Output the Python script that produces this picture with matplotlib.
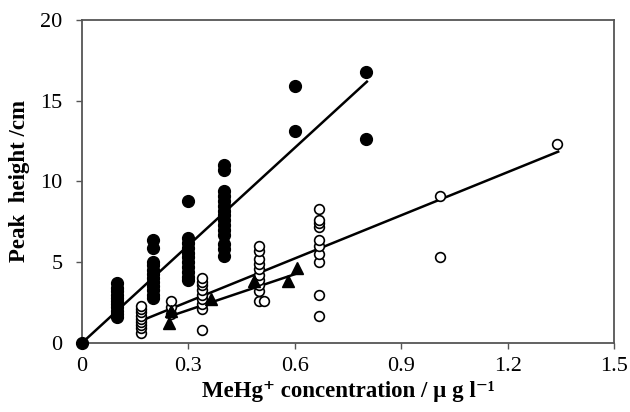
import matplotlib
matplotlib.use("Agg")
import matplotlib.pyplot as plt
import numpy as np

plt.rcParams['font.family'] = ['Liberation Serif', 'DejaVu Serif']

# filled circles
filled_x = [0.0] + [0.1] * 11 + [0.2] * 12 + [0.3] * 11 + [0.4] * 15 + [0.6] * 2 + [0.8] * 2
filled_y = [0.0,
            1.6, 1.8, 2.0, 2.2, 2.4, 2.6, 2.8, 3.0, 3.2, 3.4, 3.7,
            2.8, 3.0, 3.3, 3.5, 3.8, 4.0, 4.3, 4.5, 4.8, 5.0, 5.9, 6.4,
            3.9, 4.1, 4.4, 4.7, 5.0, 5.3, 5.6, 5.9, 6.2, 6.5, 8.8,
            5.4, 5.8, 6.1, 6.7, 7.0, 7.3, 7.6, 7.9, 8.2, 8.5, 8.8, 9.1, 9.4, 10.7, 11.0,
            13.1, 15.9,
            12.6, 16.8]

# open circles
open_x = ([0.167] * 9 + [0.25] * 3 + [0.337] * 9 + [0.5] * 10 + [0.513]
          + [0.667] * 10 + [1.01] * 2 + [1.338])
open_y = [0.6, 0.9, 1.1, 1.3, 1.5, 1.7, 1.9, 2.1, 2.3,
          1.8, 2.2, 2.6,
          0.8, 2.1, 2.4, 2.7, 3.0, 3.3, 3.6, 3.8, 4.0,
          2.6, 3.2, 3.6, 3.9, 4.2, 4.6, 4.9, 5.2, 5.7, 6.0,
          2.6,
          1.7, 3.0, 5.0, 5.5, 6.0, 6.4, 7.2, 7.4, 7.6, 8.3,
          5.3, 9.1,
          12.3]

# triangles
tri_x = [0.246, 0.25, 0.365, 0.485, 0.58, 0.606]
tri_y = [1.22, 2.0, 2.7, 3.85, 3.85, 4.65]

# fitted lines: (x start, x end, slope, intercept)
fit_filled = (0.0, 0.803, 20.15, 0.0)
fit_open = (0.172, 1.342, 8.91, -0.11)
fit_tri = (0.24, 0.61, 7.4, -0.18)

x_ticks = [0, 0.3, 0.6, 0.9, 1.2, 1.5]
x_labels = ['0', '0.3', '0.6', '0.9', '1.2', '1.5']
y_ticks = [0, 5, 10, 15, 20]

fig = plt.figure(figsize=(6.3, 4.12), dpi=100)
ax = fig.add_axes([0.130, 0.1675, 0.845, 0.784])

for x0, x1, m, b in [fit_filled, fit_open, fit_tri]:
    xs = np.array([x0, x1])
    ax.plot(xs, m * xs + b, color='black', lw=1.8, zorder=2)

ax.plot(filled_x, filled_y, 'o', color='black', ms=8.5, zorder=3, clip_on=False)
ax.plot(open_x, open_y, 'o', mfc='white', mec='black', mew=1.2, ms=7, zorder=3)
ax.plot(tri_x, tri_y, '^', color='black', ms=8, zorder=4)

ax.set_xlim(0, 1.5)
ax.set_ylim(0, 20)
ax.set_xticks(x_ticks)
ax.set_xticklabels(x_labels)
ax.set_yticks(y_ticks)
ax.tick_params(axis='both', labelsize=16, color='#555555', length=4, width=1)
ax.tick_params(axis='x', pad=6)
ax.tick_params(axis='y', pad=10)
for s in ax.spines.values():
    s.set_color('#555555')
    s.set_linewidth(1.3)

ax.set_xlabel('MeHg\u207a concentration / \u00b5 g l\u207b\u00b9', fontsize=16.5,
              fontweight='bold', labelpad=4)
ax.set_ylabel('Peak  height /cm', fontsize=16.5, fontweight='bold', labelpad=7)

fig.savefig('out.png', dpi=100)
